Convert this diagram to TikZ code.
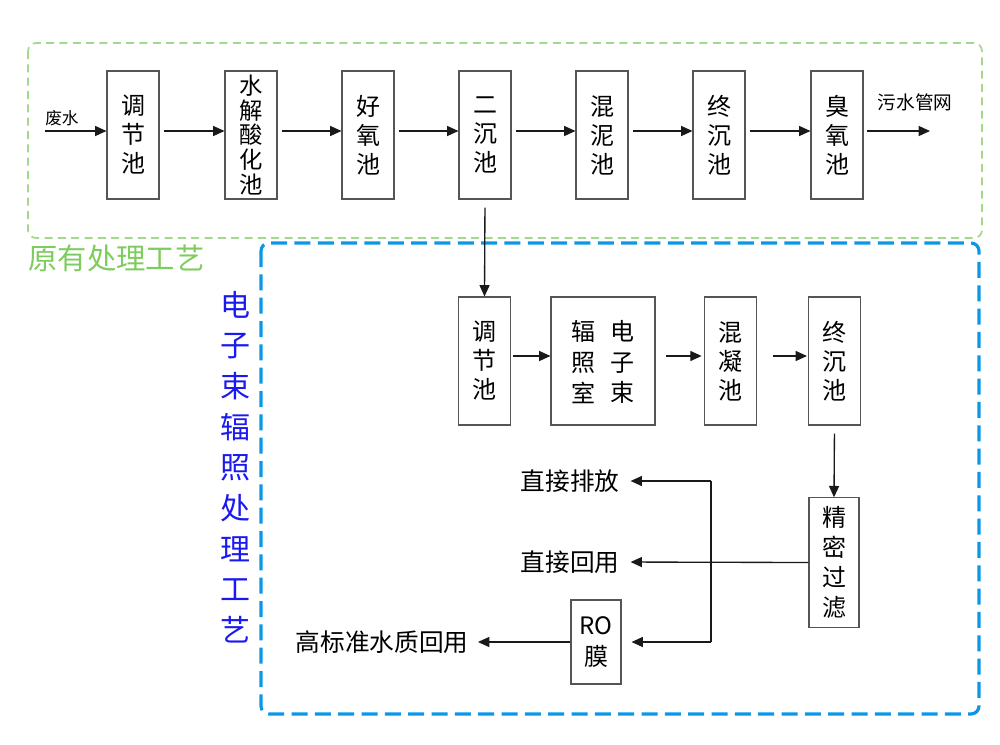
\documentclass[tikz,border=0pt]{standalone}
\usepackage{fontspec}
\setmainfont{Noto Sans CJK SC}
\usetikzlibrary{arrows.meta,calc}
\definecolor{grnline}{HTML}{A3D98B}
\definecolor{grntext}{HTML}{7FCC5E}
\definecolor{bluline}{HTML}{0A98E6}
\definecolor{blutext}{HTML}{1A1AF0}
\definecolor{boxline}{HTML}{555555}
\begin{document}
\begin{tikzpicture}[x=0.75pt,y=-0.75pt,
  box/.style={draw=boxline, line width=0.8pt, inner sep=0pt, align=center,
    font=\fontsize{18}{21.75}\selectfont},
  topbox/.style={box, minimum width=39pt, minimum height=96pt},
  lbl/.style={inner sep=0pt, font=\fontsize{18.5}{22}\selectfont},
  arr/.style={draw=black!90, line width=1pt, -{Triangle[length=8.5pt,width=7.5pt]}},
  ln/.style={draw=black!90, line width=1pt}]
\useasboundingbox (0,0) rectangle (1000,744);
% frames
\draw[grnline, line width=1.3pt, dash pattern=on 6pt off 4pt, rounded corners=6pt]
  (28,43) rectangle (982,238);
\draw[bluline, line width=2.4pt, dash pattern=on 12pt off 5.5pt, rounded corners=6pt]
  (261,243) rectangle (979,714);
\node[text=grntext, inner sep=0pt, font=\fontsize{22}{26}\selectfont] (lg) at (116.5,258) {原有处理工艺};
\node[text=blutext, inner sep=0pt, align=center, font=\fontsize{22.5}{30.5}\selectfont] (lb) at (235,467) {电\\子\\束\\辐\\照\\处\\理\\工\\艺};
% top row
\node[topbox] (t1) at (133,135) {调\\节\\池};
\node[topbox, font=\fontsize{17.5}{18.4}\selectfont] (t2) at (251,135) {水\\解\\酸\\化\\池};
\node[topbox] (t3) at (368,135) {好\\氧\\池};
\node[topbox] (t4) at (485,135) {二\\沉\\池};
\node[topbox] (t5) at (602,135) {混\\泥\\池};
\node[topbox] (t6) at (719,135) {终\\沉\\池};
\node[topbox] (t7) at (837,135) {臭\\氧\\池};
\coordinate (win) at (45,131);
\coordinate (wout) at (930,131);
\node[inner sep=0pt, font=\fontsize{12.5}{15}\selectfont] (lw) at (62,118) {废水};
\node[inner sep=0pt, font=\fontsize{14}{17}\selectfont] (lo) at (915,102) {污水管网};
\draw[arr] (win) -- (win -| t1.west);
\foreach \a/\b in {t1/t2,t2/t3,t3/t4,t4/t5,t5/t6,t6/t7}
  \draw[arr, shorten <=3pt] ([yshift=3pt]\a.east) -- ([yshift=3pt]\b.west);
\draw[arr, shorten <=2.5pt] ([yshift=3pt]t7.east) -- (wout);
% second row
\node[box, minimum width=38.5pt, minimum height=96pt] (b1) at (484.5,361) {调\\节\\池};
\node[box, minimum width=78pt, minimum height=96pt] (b2) at (603,361) {};
\node[inner sep=0pt, align=center, font=\fontsize{18}{23}\selectfont] (b2r) at (622,362) {电\\子\\束};
\node[inner sep=0pt, align=center, font=\fontsize{18}{23}\selectfont] (b2l) at (583,362) {辐\\照\\室};
\node[box, minimum width=38.5pt, minimum height=96pt] (b3) at (730.5,361) {混\\凝\\池};
\node[box, minimum width=38.5pt, minimum height=96pt] (b4) at (834.5,361) {终\\沉\\池};
\draw[arr, shorten <=6pt] (t4.south) -- (b1.north);
\draw[arr, shorten <=1.5pt] ([yshift=3.75pt]b1.east) -- ([yshift=3.75pt]b2.west);
\draw[arr, shorten <=8pt, shorten >=2pt] ([yshift=3.75pt]b2.east) -- ([yshift=3.75pt]b3.west);
\draw[arr, shorten <=12pt, shorten >=1pt] ([yshift=3.75pt]b3.east) -- ([yshift=3.75pt]b4.west);
% bottom part
\node[box, minimum width=37.5pt, minimum height=97pt, font=\fontsize{18}{22.5}\selectfont] (p) at (834,562.5) {精\\密\\过\\滤};
\node[box, minimum width=37.5pt, minimum height=63pt, font=\fontsize{18}{23}\selectfont] (ro) at (596,642) {RO\\膜};
\draw[arr, shorten <=6pt] (b4.south) -- (p.north);
\node[lbl] (pf) at (570,481) {直接排放};
\node[lbl] (hy) at (570,562) {直接回用};
\node[lbl] (hq) at (382,642) {高标准水质回用};
\coordinate (j1) at (711,481);
\coordinate (j3) at (711,642);
\draw[arr, shorten >=8.25pt] (p.west) -- (hy.east);
\draw[ln] (j1) -- (j3);
\draw[arr, shorten >=8.25pt] (j1) -- (pf.east);
\draw[arr, shorten >=7.5pt] (j3) -- (ro.east);
\draw[arr, shorten >=7pt] (ro.west) -- (hq.east);
\end{tikzpicture}
\end{document}
